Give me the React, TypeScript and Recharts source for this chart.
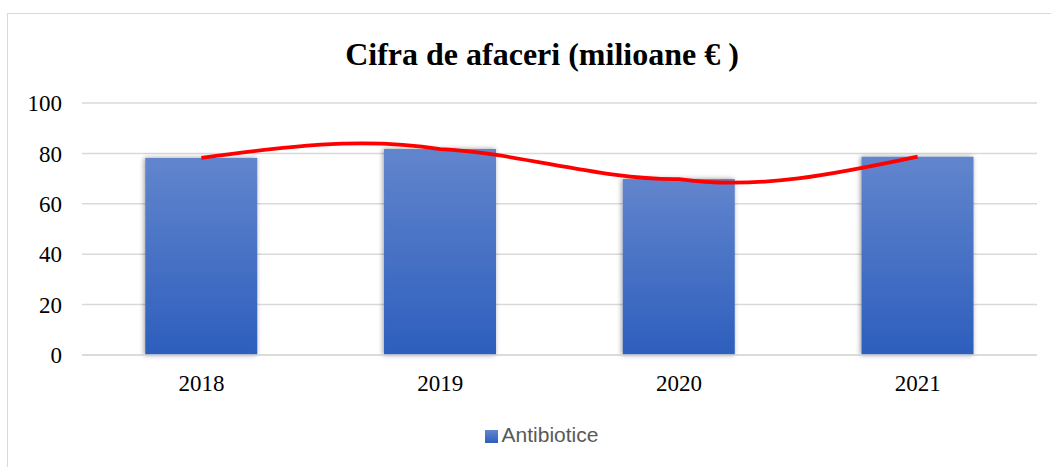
import React from 'react';
import { ComposedChart, Bar, Line, XAxis, YAxis, CartesianGrid, Legend } from 'recharts';

const years = ['2018', '2019', '2020', '2021'];
const antibiotice = [78.2, 81.7, 69.8, 78.7];
const yTicks = [0, 20, 40, 60, 80, 100];

const data = years.map((y, i) => ({ year: y, Antibiotice: antibiotice[i], trend: antibiotice[i] }));

const serif = '"Liberation Serif", "Times New Roman", serif';

// Smoothed curve through the points (natural spline with stronger bending, like the reference)
function smoothCurve(bend: number) {
  return (context: any) => {
    let xs: number[] = [];
    let ys: number[] = [];
    return {
      areaStart() {},
      areaEnd() {},
      lineStart() {
        xs = [];
        ys = [];
      },
      point(x: number, y: number) {
        xs.push(+x);
        ys.push(+y);
      },
      lineEnd() {
        const n = xs.length;
        if (n === 0) return;
        context.moveTo(xs[0], ys[0]);
        if (n === 1) return;
        if (n === 2) {
          context.lineTo(xs[1], ys[1]);
          return;
        }
        const h: number[] = [];
        for (let i = 0; i < n - 1; i++) h.push(xs[i + 1] - xs[i]);
        const M = new Array(n).fill(0);
        const a: number[] = [], b: number[] = [], c: number[] = [], d: number[] = [];
        for (let i = 1; i < n - 1; i++) {
          a.push(h[i - 1]);
          b.push(2 * (h[i - 1] + h[i]));
          c.push(h[i]);
          d.push(6 * ((ys[i + 1] - ys[i]) / h[i] - (ys[i] - ys[i - 1]) / h[i - 1]));
        }
        const m = b.length;
        for (let i = 1; i < m; i++) {
          const w = a[i] / b[i - 1];
          b[i] -= w * c[i - 1];
          d[i] -= w * d[i - 1];
        }
        const sol = new Array(m).fill(0);
        sol[m - 1] = d[m - 1] / b[m - 1];
        for (let i = m - 2; i >= 0; i--) sol[i] = (d[i] - c[i] * sol[i + 1]) / b[i];
        for (let i = 0; i < m; i++) M[i + 1] = sol[i] * bend;
        for (let i = 0; i < n - 1; i++) {
          const hi = h[i];
          const chord = (ys[i + 1] - ys[i]) / hi;
          const sL = chord - (hi * (2 * M[i] + M[i + 1])) / 6;
          const sR = chord + (hi * (M[i] + 2 * M[i + 1])) / 6;
          context.bezierCurveTo(
            xs[i] + hi / 3,
            ys[i] + (sL * hi) / 3,
            xs[i + 1] - hi / 3,
            ys[i + 1] - (sR * hi) / 3,
            xs[i + 1],
            ys[i + 1]
          );
        }
      },
    };
  };
}

const trendCurve = smoothCurve(1.7);

export default function App() {
  return (
    <div style={{ position: 'absolute', left: 0, top: 0, width: 1051, height: 467, background: '#fff', overflow: 'hidden' }}>
      <div
        style={{
          position: 'absolute',
          left: 7,
          top: 13,
          width: 1060,
          height: 470,
          border: '1.5px solid #D9D9D9',
          boxSizing: 'border-box',
        }}
      />
      <div
        style={{
          position: 'absolute',
          left: 0,
          width: 1084,
          top: 36,
          textAlign: 'center',
          fontFamily: serif,
          fontWeight: 'bold',
          fontSize: 32,
          lineHeight: 'normal',
          color: '#000',
        }}
      >
        Cifra de afaceri (milioane € )
      </div>
      <ComposedChart
        width={1051}
        height={467}
        data={data}
        margin={{ top: 103, right: 14, left: 0, bottom: 22 }}
        barCategoryGap="26.5%"
        style={{ position: 'absolute', left: 0, top: 0 }}
      >
        <defs>
          <linearGradient id="barGrad" x1="0" y1="0" x2="0" y2="1">
            <stop offset="0%" stopColor="#6285CD" />
            <stop offset="100%" stopColor="#2D5EBD" />
          </linearGradient>
          <filter id="shadow" x="-20%" y="-20%" width="140%" height="140%">
            <feDropShadow dx="-1" dy="0" stdDeviation="2.5" floodColor="#000" floodOpacity="0.4" />
          </filter>
        </defs>
        <CartesianGrid vertical={false} stroke="#D9D9D9" strokeWidth={1.5} />
        <XAxis
          dataKey="year"
          axisLine={{ stroke: '#D9D9D9', strokeWidth: 1.5 }}
          tickLine={false}
          height={40}
          tickMargin={14}
          tick={{ fontFamily: serif, fontSize: 23, fill: '#000' }}
        />
        <YAxis
          domain={[0, 100]}
          ticks={yTicks}
          width={82}
          axisLine={false}
          tickLine={false}
          tickMargin={14}
          tick={{ fontFamily: serif, fontSize: 23, fill: '#000' }}
        />
        <Bar dataKey="Antibiotice" fill="url(#barGrad)" filter="url(#shadow)" isAnimationActive={false} />
        <Line
          dataKey="trend"
          type={trendCurve as any}
          stroke="#FF0000"
          strokeWidth={3.8}
          dot={false}
          activeDot={false}
          legendType="none"
          isAnimationActive={false}
        />
        <Legend
          verticalAlign="bottom"
          height={50}
          iconType="square"
          iconSize={13}
          wrapperStyle={{ top: 423, left: 28, bottom: 'auto', fontFamily: '"Liberation Sans", Arial, sans-serif', fontSize: 21 }}
          formatter={(v: string) => <span style={{ color: '#595959' }}>{v}</span>}
        />
      </ComposedChart>
    </div>
  );
}
